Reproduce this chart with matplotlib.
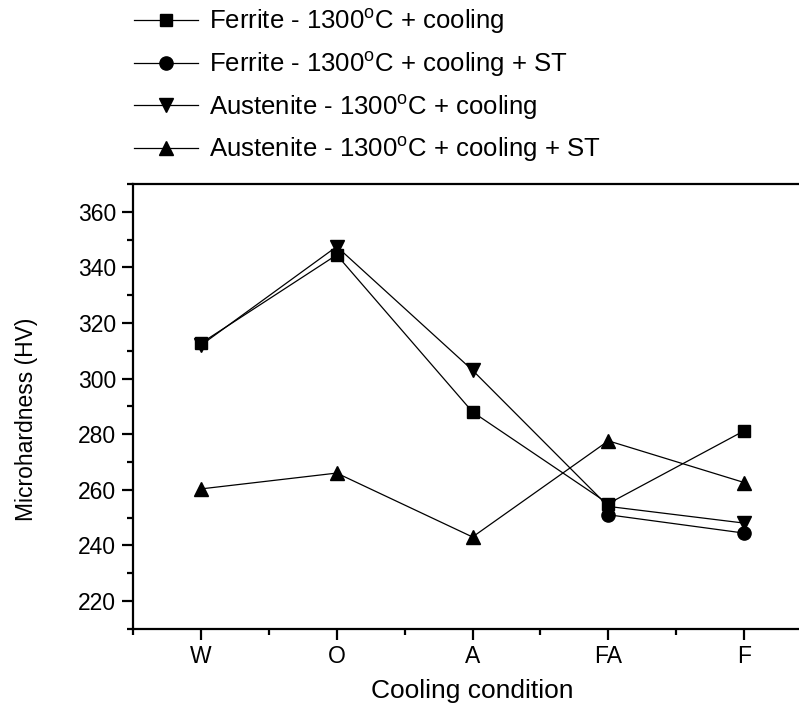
import numpy as np
import matplotlib
matplotlib.use("Agg")
import matplotlib.pyplot as plt
from matplotlib.ticker import MultipleLocator

plt.rcParams["font.family"] = ["Liberation Sans", "DejaVu Sans"]
plt.rcParams["mathtext.fontset"] = "custom"
plt.rcParams["mathtext.rm"] = "Liberation Sans"

conditions = ["W", "O", "A", "FA", "F"]
ferrite_cool = [312.7, 344.5, 288.0, 255.0, 281.2]
ferrite_cool_st = [np.nan, np.nan, np.nan, 251.0, 244.4]
austenite_cool = [312.0, 347.5, 303.0, 254.0, 248.0]
austenite_cool_st = [260.3, 266.0, 243.0, 277.6, 262.6]

labels = [
    r"Ferrite - 1300$^\mathregular{o}$C + cooling",
    r"Ferrite - 1300$^\mathregular{o}$C + cooling + ST",
    r"Austenite - 1300$^\mathregular{o}$C + cooling",
    r"Austenite - 1300$^\mathregular{o}$C + cooling + ST",
]

fig = plt.figure(figsize=(7.99, 7.10), dpi=100)
# axes runs a bit past the right edge, like the original
ax = fig.add_axes([0.1665, 0.1145, 0.8498, 0.6263])

x = np.arange(1, len(conditions) + 1)
series = [
    (ferrite_cool, "s", 9),
    (ferrite_cool_st, "o", 9.5),
    (austenite_cool, "v", 10.5),
    (austenite_cool_st, "^", 10.5),
]
for (y, m, ms), lab in zip(series, labels):
    ax.plot(x, y, color="black", lw=0.9, marker=m, ms=ms, label=lab)

ax.set_xlim(0.5, 5.5)
ax.set_ylim(210, 370)
ax.set_xticks(x)
ax.set_xticklabels(conditions)
ax.xaxis.set_minor_locator(MultipleLocator(0.5))
ax.yaxis.set_minor_locator(MultipleLocator(10))
ax.set_yticks([220, 240, 260, 280, 300, 320, 340, 360])

for s in ax.spines.values():
    s.set_linewidth(1.6)
ax.tick_params(which="major", direction="out", length=8, width=1.6, labelsize=16.5, pad=4)
ax.tick_params(which="minor", direction="out", length=4, width=1.6)
ax.tick_params(top=False, right=False, which="both")

ax.set_xlabel("Cooling condition", fontsize=19, labelpad=8)
ax.set_ylabel("Microhardness (HV)", fontsize=16.5)
ax.yaxis.set_label_coords(-0.14, 0.47)

fig.legend(
    loc="upper left",
    bbox_to_anchor=(0.155, 1.005),
    frameon=False,
    fontsize=18.5,
    handlelength=2.5,
    handletextpad=0.4,
    labelspacing=0.5,
    borderaxespad=0,
)

fig.savefig("out.png", dpi=100)
